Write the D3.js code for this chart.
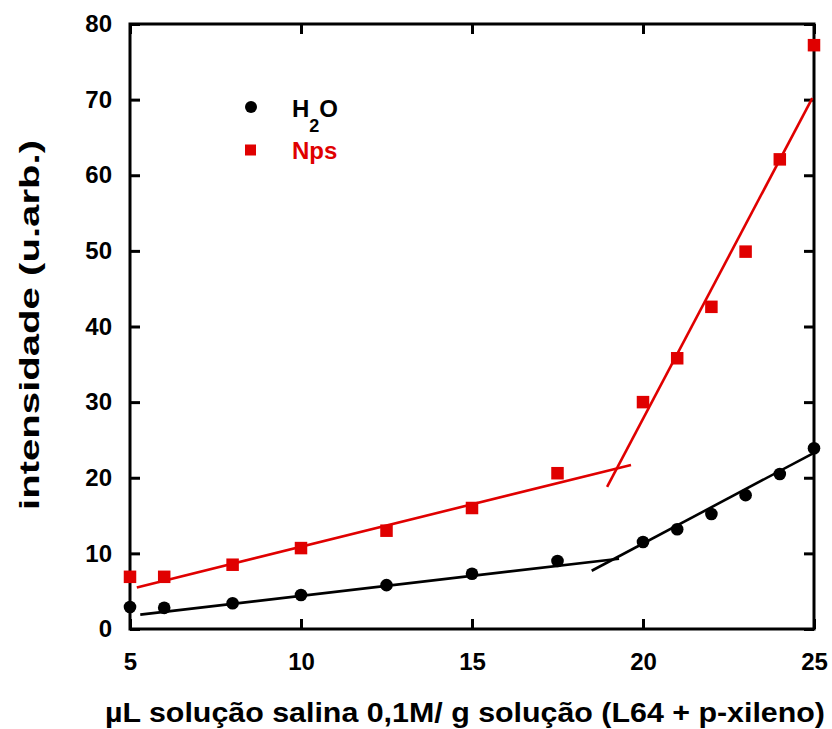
<!DOCTYPE html>
<html>
<head>
<meta charset="utf-8">
<script src="https://cdn.jsdelivr.net/npm/d3@7"></script>
<style>
  html, body { margin: 0; padding: 0; background: #fff; }
  svg { display: block; font-family: "Liberation Sans", Arial, sans-serif; font-weight: bold; }
</style>
</head>
<body>
<svg id="chart" width="832" height="729"></svg>
<script>
// Volume of saline solution added (µL / g)
const xValues = [5, 6, 8, 10, 12.5, 15, 17.5, 20, 21, 22, 23, 24, 25];
// Intensity, pure water series
const h2oValues = [2.9, 2.8, 3.4, 4.5, 5.8, 7.3, 9.0, 11.5, 13.2, 15.2, 17.7, 20.5, 23.9];
// Intensity, nanoparticle series
const npsValues = [6.9, 6.9, 8.5, 10.7, 13.0, 16.0, 20.6, 30.0, 35.8, 42.6, 49.9, 62.1, 77.2];

// Linear fit segments [x0, y0, x1, y1]
const h2oFitLow = [5.3, 1.9, 19.3, 9.3];
const h2oFitHigh = [18.5, 7.7, 25, 23.3];
const npsFitLow = [5.2, 5.5, 19.65, 21.7];
const npsFitHigh = [18.95, 18.8, 24.95, 70.2];

const xTicks = [5, 10, 15, 20, 25];
const yTicks = [0, 10, 20, 30, 40, 50, 60, 70, 80];

const svg = d3.select("#chart");
const plotL = 130, plotR = 814, plotT = 24, plotB = 629;

const x = d3.scaleLinear().domain([5, 25]).range([plotL, plotR]);
const y = d3.scaleLinear().domain([0, 80]).range([plotB, plotT]);

const tickLen = 10;
const axisStyle = g => {
  g.select(".domain").remove();
  g.selectAll(".tick line").attr("stroke", "#000").attr("stroke-width", 3);
  g.selectAll(".tick text").attr("font-size", 24).attr("font-weight", "bold")
    .attr("font-family", "Liberation Sans, Arial, sans-serif").attr("fill", "#000");
};

// bottom axis (inner ticks, labels below)
svg.append("g").attr("transform", `translate(0,${plotB})`)
  .call(d3.axisBottom(x).tickValues(xTicks).tickSizeInner(-tickLen).tickSizeOuter(0).tickPadding(24).tickFormat(d3.format("d")))
  .call(axisStyle);
// top axis ticks
svg.append("g").attr("transform", `translate(0,${plotT})`)
  .call(d3.axisTop(x).tickValues(xTicks).tickSizeInner(-tickLen).tickSizeOuter(0).tickFormat(""))
  .call(axisStyle);
// left axis
svg.append("g").attr("transform", `translate(${plotL},0)`)
  .call(d3.axisLeft(y).tickValues(yTicks).tickSizeInner(-tickLen).tickSizeOuter(0).tickPadding(18).tickFormat(d3.format("d")))
  .call(axisStyle);
// right axis ticks
svg.append("g").attr("transform", `translate(${plotR},0)`)
  .call(d3.axisRight(y).tickValues(yTicks).tickSizeInner(-tickLen).tickSizeOuter(0).tickFormat(""))
  .call(axisStyle);

// frame
svg.append("rect").attr("x", plotL).attr("y", plotT)
  .attr("width", plotR - plotL).attr("height", plotB - plotT)
  .attr("fill", "none").attr("stroke", "#000").attr("stroke-width", 3);

// fit lines
const fits = [
  [h2oFitLow, "#000"], [h2oFitHigh, "#000"],
  [npsFitLow, "#e00000"], [npsFitHigh, "#e00000"]
];
svg.append("g").selectAll("line").data(fits).join("line")
  .attr("x1", d => x(d[0][0])).attr("y1", d => y(d[0][1]))
  .attr("x2", d => x(d[0][2])).attr("y2", d => y(d[0][3]))
  .attr("stroke", d => d[1]).attr("stroke-width", 2.6);

// markers
const pts = xValues.map((v, i) => ({ x: v, h: h2oValues[i], n: npsValues[i] }));
svg.append("g").selectAll("circle").data(pts).join("circle")
  .attr("cx", d => x(d.x)).attr("cy", d => y(d.h)).attr("r", 6.3).attr("fill", "#000");
const sq = 12.5;
svg.append("g").selectAll("rect").data(pts).join("rect")
  .attr("x", d => x(d.x) - sq / 2).attr("y", d => y(d.n) - sq / 2)
  .attr("width", sq).attr("height", sq).attr("fill", "#e00000");

// legend
const lg = svg.append("g");
lg.append("circle").attr("cx", 251).attr("cy", 107).attr("r", 6).attr("fill", "#000");
const t1 = lg.append("text").attr("x", 292).attr("y", 117).attr("font-size", 24).attr("fill", "#000");
t1.append("tspan").text("H");
t1.append("tspan").attr("font-size", 18).attr("dy", 15).text("2");
t1.append("tspan").attr("dy", -15).text("O");
lg.append("rect").attr("x", 245).attr("y", 144.5).attr("width", 11).attr("height", 11).attr("fill", "#e00000");
lg.append("text").attr("x", 292).attr("y", 159).attr("font-size", 24).attr("fill", "#e00000").text("Nps");

// axis titles
svg.append("text").attr("x", 105).attr("y", 722)
  .attr("font-size", 27).attr("fill", "#000")
  .attr("textLength", 720).attr("lengthAdjust", "spacingAndGlyphs")
  .text("\u00B5L solução salina 0,1M/ g solução (L64 + p-xileno)");
svg.append("text").attr("transform", "translate(39,510) rotate(-90)")
  .attr("font-size", 28).attr("fill", "#000")
  .attr("textLength", 370).attr("lengthAdjust", "spacingAndGlyphs")
  .text("intensidade (u.arb.)");
</script>
</body>
</html>
